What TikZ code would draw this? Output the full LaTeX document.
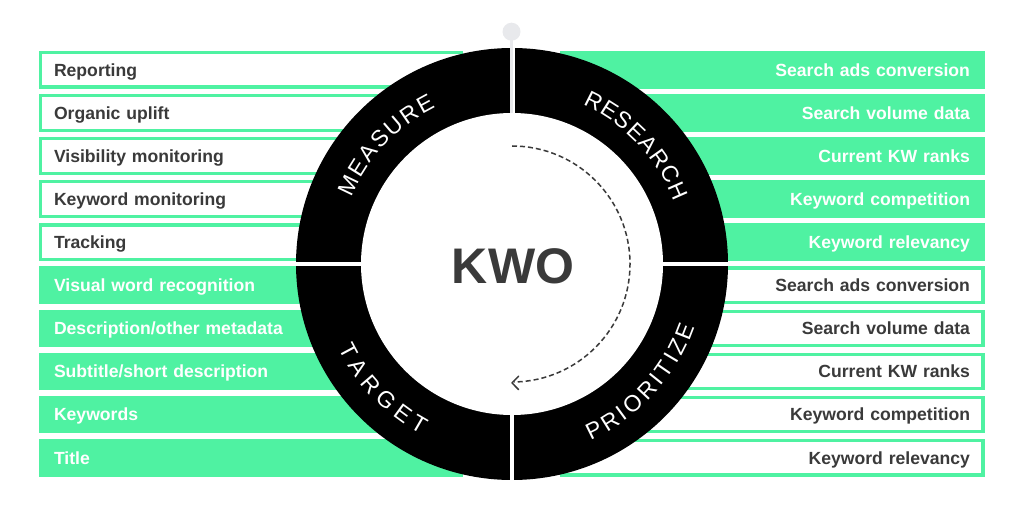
\documentclass[tikz,border=0pt]{standalone}
\usepackage{fontspec}
\setmainfont{Liberation Sans}
\usetikzlibrary{arrows.meta}
\usetikzlibrary{decorations.text}
\usetikzlibrary{positioning}
\definecolor{kwogreen}{HTML}{4FF2A2}
\definecolor{kwotext}{HTML}{3A3A3A}
\definecolor{kwopin}{HTML}{E8E9EC}
\newcommand{\ringfont}{\fontsize{23}{23}\selectfont}
\tikzset{
  box/.style = {draw = kwogreen, line width = 3.2pt, minimum width = 421pt,
    minimum height = 34.5pt, inner sep = 0, text height = 12.6pt, text depth = 0pt,
    font = \fontsize{17.6}{17.6}\selectfont\bfseries},
  outbox/.style = {box, fill = white, text = kwotext},
  fullbox/.style = {box, fill = kwogreen, text = white},
  leftbox/.style = {text width = 394pt, align = left},
  rightbox/.style = {text width = 395pt, align = right},
  ringlabel/.style = {decorate, decoration = {text along path,
    text color = white, text align = fit to path, text = {|\ringfont|#1}}}
}

\begin{document}
\begin{tikzpicture}[x=1pt, y=1pt]
    \useasboundingbox (0, 0) rectangle (1024, 512);
    % left column
    \foreach \lbl [count=\i] in {Reporting, Organic uplift, Visibility monitoring,
      Keyword monitoring, Tracking}{
      \node [outbox, leftbox] (m\i) at (251, {442.2 - 43.1*(\i-1)}) {\lbl};
    }
    \foreach \lbl [count=\i] in {Visual word recognition, Description/other metadata,
      Subtitle/short description, Keywords, Title}{
      \node [fullbox, leftbox] (t\i) at (251, {226.7 - 43.1*(\i-1)}) {\lbl};
    }
    % right column
    \foreach \lbl [count=\i] in {Search ads conversion, Search volume data,
      Current KW ranks, Keyword competition, Keyword relevancy}{
      \node [fullbox, rightbox] (r\i) at (772.5, {442.2 - 43.1*(\i-1)}) {\lbl};
      \node [outbox, rightbox] (p\i) at (772.5, {226.7 - 43.1*(\i-1)}) {\lbl};
    }
    % ring
    \begin{scope}[shift={(512, 248)}]
      \fill [black] (0, 0) circle [radius = 216];
      \fill [white] (0, 0) circle [radius = 151];
      \draw [white, line width = 4pt] (-218, 0) -- (218, 0);
      \draw [white, line width = 4pt] (0, 0) -- (0, -218);
      \draw [white, line width = 5pt] (0, 151) -- (0, 218);
      \draw [kwopin, line width = 3pt] (-0.5, 151) -- (-0.5, 232);
      \fill [kwopin] (-0.5, 232.3) circle [radius = 9];
      \path [ringlabel = MEASURE] (157.5:174) arc [start angle = 157.5, end angle = 116, radius = 174];
      \path [ringlabel = RESEARCH] (66:174) arc [start angle = 66, end angle = 21, radius = 174];
      \path [ringlabel = TARGET] (206:193) arc [start angle = 206, end angle = 242, radius = 193];
      \path [ringlabel = PRIORITIZE] (294:193) arc [start angle = 294, end angle = 341, radius = 193];
      % loop arrow
      \draw [kwotext, line width = 1.5pt, dash pattern = on 5pt off 3pt]
        (0, 118) arc [start angle = 90, end angle = -89, radius = 118];
      \draw [kwotext, line width = 1.5pt, line cap = round, line join = round]
        (6.6, -112.2) -- (0, -118.9) -- (6.6, -125.6);
      \node [font = \fontsize{50}{50}\selectfont\bfseries, text = kwotext] (kwo) at (1, -2) {KWO};
    \end{scope}
  \end{tikzpicture}
\end{document}
